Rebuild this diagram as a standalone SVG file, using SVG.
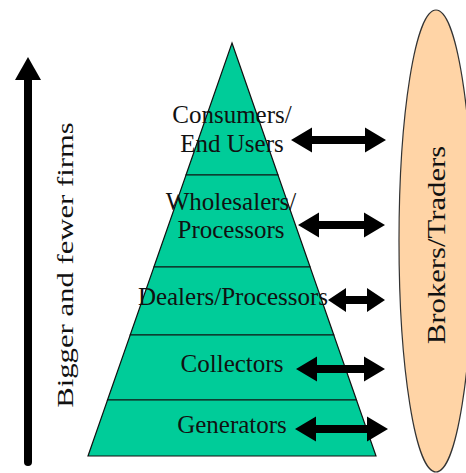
<svg xmlns="http://www.w3.org/2000/svg" width="466" height="473" viewBox="0 0 466 473">
<style>
.layer{fill:#00CC99;stroke:#111;stroke-width:1.2;stroke-linejoin:miter}
.lbl{font-family:"Liberation Serif","Times New Roman",serif;font-size:25px;fill:#111;text-anchor:middle}
.side{font-family:"Liberation Serif","Times New Roman",serif;fill:#111;text-anchor:middle}
.dbl{fill:#000}
</style>
<rect width="466" height="473" fill="#fff"/>
<g id="brokers">
<ellipse cx="436" cy="241" rx="37" ry="231" fill="#FFD4A6" stroke="#333" stroke-width="1.2"/>
<text class="side" font-size="25" transform="translate(445,245) rotate(-90) scale(1.23,1)">Brokers/Traders</text>
</g>
<g id="axis">
<line x1="28" y1="462" x2="28" y2="78" stroke="#000" stroke-width="8" stroke-linecap="round"/>
<polygon points="28,57 15,80 41,80" fill="#000"/>
<text class="side" font-size="24" transform="translate(73,265) rotate(-90) scale(1.28,1)">Bigger and fewer firms</text>
</g>
<g id="consumers">
<polygon class="layer" points="232,43 278,175 186,175"/>
<text class="lbl" x="232" y="123">Consumers/</text>
<text class="lbl" x="232" y="152">End Users</text>
</g>
<g id="wholesalers">
<polygon class="layer" points="186,175 278,175 310.1,267 153.9,267"/>
<text class="lbl" x="231" y="210">Wholesalers/</text>
<text class="lbl" x="231" y="238">Processors</text>
</g>
<g id="dealers">
<polygon class="layer" points="153.9,267 310.1,267 333.8,335 130.2,335"/>
<text class="lbl" x="233" y="305">Dealers/Processors</text>
</g>
<g id="collectors">
<polygon class="layer" points="130.2,335 333.8,335 356.5,400 107.5,400"/>
<text class="lbl" x="232" y="372">Collectors</text>
</g>
<g id="generators">
<polygon class="layer" points="107.5,400 356.5,400 376,456 88,456"/>
<text class="lbl" x="232" y="433">Generators</text>
</g>
<g id="connectors">
<path class="dbl" d="M291,140 L312,127.5 L312,136 L365,136 L365,127.5 L386,140 L365,152.5 L365,144 L312,144 L312,152.5 Z"/>
<path class="dbl" d="M298,225 L319,212.5 L319,221 L364,221 L364,212.5 L385,225 L364,237.5 L364,229 L319,229 L319,237.5 Z"/>
<path class="dbl" d="M328,300 L346,288 L346,296 L367,296 L367,288 L385,300 L367,312 L367,304 L346,304 L346,312 Z"/>
<path class="dbl" d="M296,369 L317,356.5 L317,365 L364,365 L364,356.5 L385,369 L364,381.5 L364,373 L317,373 L317,381.5 Z"/>
<path class="dbl" d="M295,429 L316,416.5 L316,425 L367,425 L367,416.5 L388,429 L367,441.5 L367,433 L316,433 L316,441.5 Z"/>
</g>
</svg>
